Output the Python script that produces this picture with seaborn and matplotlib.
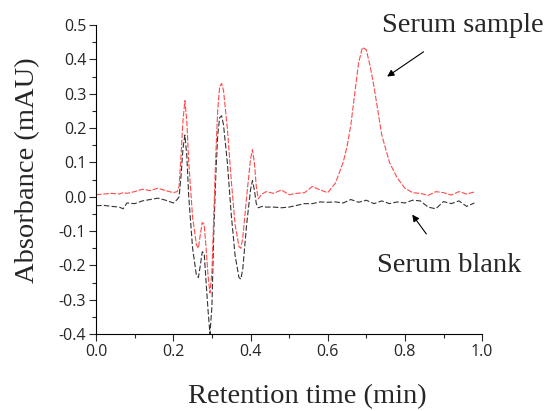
import numpy as np
import pandas as pd
import matplotlib
matplotlib.use("Agg")
import matplotlib.pyplot as plt
from matplotlib.ticker import MultipleLocator
import seaborn as sns

# serum sample trace (red)
sample_time = [0.00, 0.02, 0.04, 0.06, 0.07, 0.08, 0.10, 0.12, 0.14, 0.16, 0.18, 0.20,
               0.21, 0.215, 0.22, 0.225, 0.23, 0.235, 0.24, 0.25, 0.26, 0.265, 0.27, 0.275,
               0.28, 0.285, 0.29, 0.295, 0.30, 0.305, 0.31, 0.315, 0.32, 0.325, 0.33, 0.34,
               0.35, 0.36, 0.37, 0.375, 0.38, 0.39, 0.40, 0.405, 0.41, 0.415, 0.42, 0.43,
               0.44, 0.46, 0.48, 0.50, 0.52, 0.54, 0.56, 0.58, 0.60, 0.62, 0.63, 0.64,
               0.65, 0.66, 0.67, 0.68, 0.69, 0.70, 0.71, 0.72, 0.73, 0.74, 0.75, 0.76,
               0.78, 0.80, 0.82, 0.84, 0.86, 0.88, 0.90, 0.92, 0.94, 0.96, 0.98]
sample_abs = [0.006, 0.008, 0.010, 0.008, 0.012, 0.010, 0.015, 0.022, 0.018, 0.025, 0.018, 0.012,
              0.015, 0.03, 0.12, 0.22, 0.28, 0.22, 0.10, -0.06, -0.14, -0.15, -0.11, -0.075,
              -0.08, -0.15, -0.23, -0.28, -0.22, -0.05, 0.12, 0.25, 0.32, 0.33, 0.31, 0.20,
              0.05, -0.08, -0.145, -0.15, -0.12, 0.00, 0.11, 0.137, 0.10, 0.03, -0.006, 0.008,
              0.015, 0.01, 0.02, 0.006, 0.01, 0.012, 0.03, 0.02, 0.012, 0.04, 0.07, 0.10,
              0.146, 0.21, 0.30, 0.39, 0.435, 0.428, 0.38, 0.32, 0.25, 0.18, 0.14, 0.10,
              0.055, 0.025, 0.012, 0.01, 0.004, 0.015, 0.012, 0.005, 0.015, 0.008, 0.014]

# serum blank trace (black)
blank_time = [0.00, 0.02, 0.04, 0.06, 0.07, 0.08, 0.10, 0.12, 0.14, 0.16, 0.18, 0.20,
              0.21, 0.215, 0.22, 0.225, 0.23, 0.235, 0.24, 0.25, 0.26, 0.265, 0.27, 0.275,
              0.28, 0.285, 0.29, 0.295, 0.30, 0.305, 0.31, 0.315, 0.32, 0.325, 0.33, 0.34,
              0.35, 0.36, 0.37, 0.375, 0.38, 0.39, 0.40, 0.405, 0.41, 0.415, 0.42, 0.43,
              0.44, 0.46, 0.48, 0.50, 0.52, 0.54, 0.56, 0.58, 0.60, 0.62, 0.64, 0.66,
              0.68, 0.70, 0.72, 0.74, 0.76, 0.78, 0.80, 0.82, 0.84, 0.86, 0.88, 0.90,
              0.92, 0.94, 0.96, 0.98]
blank_abs = [-0.026, -0.025, -0.028, -0.03, -0.035, -0.018, -0.02, -0.012, -0.008, -0.004, -0.01, -0.018,
             -0.008, 0.0, 0.06, 0.14, 0.18, 0.12, 0.0, -0.15, -0.23, -0.235, -0.2, -0.16,
             -0.165, -0.25, -0.33, -0.40, -0.32, -0.10, 0.06, 0.18, 0.23, 0.236, 0.21, 0.10,
             -0.05, -0.17, -0.235, -0.24, -0.21, -0.08, 0.02, 0.047, 0.02, -0.02, -0.032, -0.028,
             -0.03, -0.03, -0.032, -0.03, -0.025, -0.02, -0.02, -0.015, -0.016, -0.015, -0.018, -0.008,
             -0.016, -0.01, -0.02, -0.012, -0.02, -0.015, -0.018, -0.01, -0.012, -0.03, -0.035, -0.014,
             -0.02, -0.012, -0.028, -0.018]

sample = pd.DataFrame({"t": sample_time, "a": sample_abs})
blank = pd.DataFrame({"t": blank_time, "a": blank_abs})

sns.set_style("ticks")
plt.rcParams["font.family"] = ["Open Sans", "DejaVu Sans"]

fig = plt.figure(figsize=(5.46, 4.11), dpi=100)
ax = fig.add_axes([0.176, 0.187, 0.707, 0.752])

sns.lineplot(data=blank, x="t", y="a", ax=ax, color="#333333", lw=0.8,
             linestyle=(0, (5, 2)))
sns.lineplot(data=sample, x="t", y="a", ax=ax, color="#ff4a4a", lw=0.8,
             linestyle=(0, (5, 1.5)))

ax.set_xlim(0, 1.0)
ax.set_ylim(-0.4, 0.5)
ax.xaxis.set_major_locator(MultipleLocator(0.2))
ax.xaxis.set_minor_locator(MultipleLocator(0.1))
ax.yaxis.set_major_locator(MultipleLocator(0.1))
ax.yaxis.set_minor_locator(MultipleLocator(0.05))
ax.set_xticklabels([f"{v:.1f}" for v in ax.get_xticks()])
ax.set_yticklabels([f"{v:.1f}" for v in ax.get_yticks()])
ax.tick_params(which="major", direction="out", length=5, width=0.8, labelsize=11.5, pad=2)
ax.tick_params(which="minor", direction="out", length=3, width=0.8)
for s in ["left", "bottom"]:
    ax.spines[s].set_linewidth(0.8)
    ax.spines[s].set_color("black")
sns.despine(ax=ax)

serif = ["Liberation Serif", "DejaVu Serif"]
ax.set_xlabel("Retention time (min)", family=serif, fontsize=20.5)
ax.set_ylabel("Absorbance (mAU)", family=serif, fontsize=20.5)
# labels sit a little off-centre in the original
ax.xaxis.set_label_coords(0.547, -0.16)
ax.yaxis.set_label_coords(-0.145, 0.53)

ax.annotate("Serum sample", xy=(0.754, 0.35), xytext=(0.95, 0.5),
            family=serif, fontsize=20.5, ha="center", va="center",
            annotation_clip=False,
            arrowprops=dict(arrowstyle="-|>", color="black", lw=0.8,
                            shrinkA=14, shrinkB=0, mutation_scale=10))
ax.annotate("Serum blank", xy=(0.819, -0.052), xytext=(0.915, -0.2),
            family=serif, fontsize=20.5, ha="center", va="center",
            arrowprops=dict(arrowstyle="-|>", color="black", lw=0.8,
                            shrinkA=14, shrinkB=0, mutation_scale=10))

fig.savefig("out.png", dpi=100)
